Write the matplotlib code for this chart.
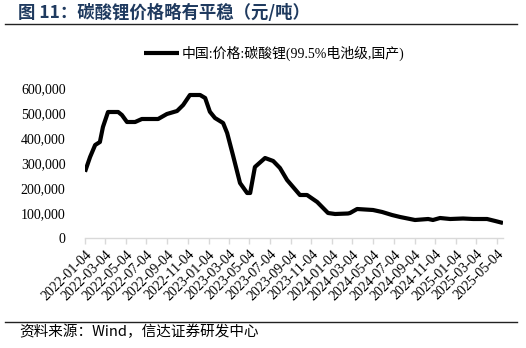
import numpy as np
import pandas as pd
import matplotlib
matplotlib.use("Agg")
import matplotlib.pyplot as plt
from matplotlib.ticker import FuncFormatter

# 碳酸锂(99.5%电池级,国产) 价格, 元/吨
dates = [
    "2022-01-04", "2022-01-19", "2022-02-03", "2022-02-17", "2022-02-26",
    "2022-03-13", "2022-04-12", "2022-04-23", "2022-05-08", "2022-06-01",
    "2022-06-21", "2022-08-08", "2022-09-03", "2022-10-03", "2022-10-21",
    "2022-11-10", "2022-12-10", "2022-12-25", "2023-01-08", "2023-01-23",
    "2023-02-16", "2023-02-28", "2023-03-17", "2023-04-07", "2023-04-28",
    "2023-05-07", "2023-05-21", "2023-06-20", "2023-07-14", "2023-08-03",
    "2023-08-24", "2023-10-01", "2023-10-22", "2023-11-21", "2023-12-23",
    "2024-01-13", "2024-02-20", "2024-02-26", "2024-03-18", "2024-05-04",
    "2024-05-31", "2024-06-29", "2024-07-23", "2024-09-05", "2024-10-14",
    "2024-10-28", "2024-11-18", "2024-12-18", "2025-01-25", "2025-02-24",
    "2025-04-06", "2025-04-30", "2025-05-23",
]
prices = [
    265000, 324000, 372000, 384000, 444000,
    504000, 504000, 492000, 464000, 464000,
    476000, 476000, 496000, 508000, 532000,
    572000, 572000, 560000, 505000, 480000,
    460000, 420000, 332000, 220000, 180000,
    180000, 284000, 320000, 308000, 280000,
    232000, 172000, 172000, 144000, 100000,
    96000, 98000, 100000, 116000, 112000,
    104000, 92000, 84000, 72000, 76000,
    72000, 80000, 76000, 78000, 76000,
    76000, 68000, 60000,
]
tick_labels = [
    "2022-01-04", "2022-03-04", "2022-05-04", "2022-07-04", "2022-09-04",
    "2022-11-04", "2023-01-04", "2023-03-04", "2023-05-04", "2023-07-04",
    "2023-09-04", "2023-11-04", "2024-01-04", "2024-03-04", "2024-05-04",
    "2024-07-04", "2024-09-04", "2024-11-04", "2025-01-04", "2025-03-04",
    "2025-05-04",
]

x = pd.to_datetime(dates)
ticks = pd.to_datetime(tick_labels)

cjk = ["Noto Sans CJK SC", "DejaVu Sans"]
serif_cjk = ["Liberation Serif", "Noto Sans CJK SC"]

fig = plt.figure(figsize=(5.26, 3.48), dpi=100)
ax = fig.add_axes([85 / 526, 1 - 238 / 348, (503 - 85) / 526, 150 / 348])

ax.plot(x, prices, color="black", lw=3, solid_joinstyle="round",
        solid_capstyle="butt", label="中国:价格:碳酸锂(99.5%电池级,国产)")

ax.set_ylim(0, 600000)
ax.set_xlim(x[0], x[-1])
ax.set_yticks(np.arange(0, 600001, 100000))
ax.yaxis.set_major_formatter(FuncFormatter(lambda v, p: f"{int(v):,}"))
ax.set_xticks(ticks)
ax.set_xticklabels(tick_labels, rotation=45, ha="right", va="top",
                   rotation_mode="anchor")

for s in ["top", "right", "left"]:
    ax.spines[s].set_visible(False)
ax.spines["bottom"].set_color("#d9d9d9")
ax.spines["bottom"].set_linewidth(1)
ax.tick_params(axis="y", length=0, pad=14, labelsize=10)
ax.tick_params(axis="x", length=4, width=1, color="#d9d9d9", pad=3,
               labelsize=10)
for lab in ax.get_xticklabels() + ax.get_yticklabels():
    lab.set_fontfamily("Liberation Serif")

fig.legend(loc="center", bbox_to_anchor=(274 / 526, 1 - 53 / 348),
           frameon=False, handlelength=2.5, handletextpad=0.2,
           prop={"family": serif_cjk, "size": 10})

# 标题与分隔线
fig.text(18 / 526, 1 - 13 / 348, "图 11：碳酸锂价格略有平稳（元/吨）",
         family=cjk, fontsize=12.5, fontweight="bold", color="#1f3a5f",
         ha="left", va="center")
fig.add_artist(plt.Line2D([5 / 526, 517 / 526], [1 - 24 / 348] * 2,
                          color="#222222", lw=1))
fig.add_artist(plt.Line2D([5 / 526, 517 / 526], [1 - 322 / 348] * 2,
                          color="#222222", lw=1))
fig.text(19 / 526, 1 - 332 / 348, "资料来源：Wind，信达证券研发中心",
         family=cjk, fontsize=10.5, color="black", ha="left", va="center")

fig.savefig("out.png", dpi=100)
